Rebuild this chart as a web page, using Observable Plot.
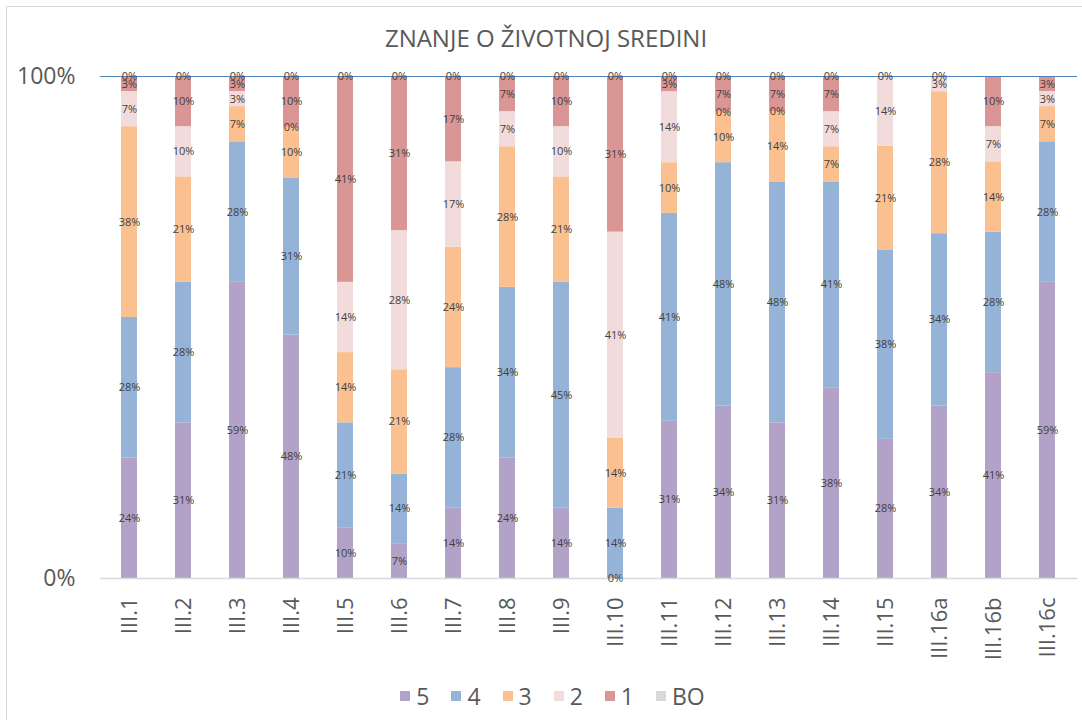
<!DOCTYPE html>
<html>
<head>
<meta charset="utf-8">
<script src="https://cdn.jsdelivr.net/npm/d3@7"></script>
<script src="https://cdn.jsdelivr.net/npm/@observablehq/plot@0.6"></script>
<style>
  html, body { margin: 0; padding: 0; background: #fff; }
  #wrap { position: relative; width: 1082px; height: 720px; overflow: hidden; }
  #frame { position: absolute; left: 6px; top: 6px; width: 1200px; height: 800px;
           border-left: 1.5px solid #d9d9d9; border-top: 1.5px solid #d9d9d9; }
  #title { position: absolute; top: 21px; left: 0; width: 1092px; text-align: center;
           font-family: "Liberation Sans Narrow", "Open Sans", sans-serif; font-size: 24px;
           color: #595959; }
  #chart { position: absolute; left: 0; top: 0; }
  #legend { position: absolute; top: 680px; left: 0; width: 1105px; display: flex; justify-content: center;
            font-family: "Open Sans", sans-serif; font-size: 23px; color: #595959; }
  .item { display: flex; align-items: center; margin: 0 11px; }
  .sw { width: 10px; height: 10px; margin-right: 6px; }
</style>
</head>
<body>
<div id="wrap">
  <div id="frame"></div>
  <div id="title">ZNANJE O ŽIVOTNOJ SREDINI</div>
  <div id="chart"></div>
  <div id="legend"></div>
</div>
<script>
const questions = ["III.1","III.2","III.3","III.4","III.5","III.6","III.7","III.8","III.9","III.10","III.11","III.12","III.13","III.14","III.15","III.16a","III.16b","III.16c"];
const grades = ["5","4","3","2","1","BO"];
const colors = ["#b3a2c7","#95b3d7","#fac090","#f2dcdb","#d99694","#d9d9d9"];
const s5  = [24,31,59,48,10, 7,14,24,14, 0,31,34,31,38,28,34,41,59];
const s4  = [28,28,28,31,21,14,28,34,45,14,41,48,48,41,38,34,28,28];
const s3  = [38,21, 7,10,14,21,24,28,21,14,10,10,14, 7,21,28,14, 7];
const s2  = [ 7,10, 3, 0,14,28,17, 7,10,41,14, 0, 0, 7,14, 3, 7, 3];
const s1  = [ 3,10, 3,10,41,31,17, 7,10,31, 3, 7, 7, 7, 0, 0,10, 3];
const sBO = [ 0, 0, 0, 0, 0, 0, 0, 0, 0, 0, 0, 0, 0, 0,null,null,null,null];
const series = [s5, s4, s3, s2, s1, sBO];

const data = [];
questions.forEach((q, i) => {
  grades.forEach((g, j) => {
    const v = series[j][i];
    if (v !== null) data.push({q, g, v});
  });
});

const stackOpts = {x: "q", y: "v", z: "g", order: grades, offset: "normalize"};

const chart = Plot.plot({
  width: 1082,
  height: 660,
  marginTop: 76,
  marginBottom: 82,
  marginLeft: 100,
  marginRight: 5,
  style: {fontFamily: "Open Sans, sans-serif", background: "transparent"},
  x: {domain: questions, paddingInner: 0.7, paddingOuter: 0.35, label: null},
  y: {domain: [0, 1], label: null},
  color: {domain: grades, range: colors},
  marks: [
    Plot.barY(data, Plot.stackY({...stackOpts, fill: "g"})),
    Plot.ruleY([0], {stroke: "#d9d9d9", strokeWidth: 1.5}),
    Plot.ruleY([1], {stroke: "#4f81bd", strokeWidth: 1.2}),
    Plot.text(data, Plot.stackY({...stackOpts, text: d => d.v + "%", fill: "#404040", fontSize: 11})),
    Plot.axisY({ticks: [0, 1], tickFormat: d => Math.round(d * 100) + "%", tickSize: 0, tickPadding: 25,
                fontSize: 23, color: "#595959", label: null}),
    Plot.axisX({tickRotate: -90, tickSize: 0, tickPadding: 19, fontSize: 22, color: "#595959", label: null})
  ]
});
document.getElementById("chart").appendChild(chart);

const legend = document.getElementById("legend");
grades.forEach((g, j) => {
  const it = document.createElement("div");
  it.className = "item";
  const sw = document.createElement("span");
  sw.className = "sw";
  sw.style.background = colors[j];
  const t = document.createElement("span");
  t.textContent = g;
  it.appendChild(sw); it.appendChild(t);
  legend.appendChild(it);
});
</script>
</body>
</html>
